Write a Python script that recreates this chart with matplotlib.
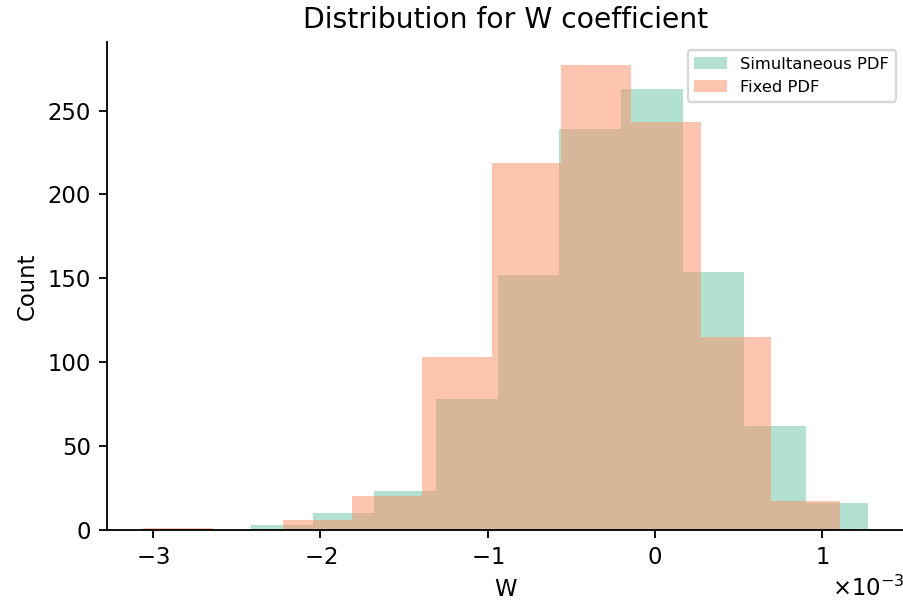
import numpy as np
import matplotlib.pyplot as plt

# bin counts for the W coefficient, 10 equal-width bins per run
sim_counts = [3, 10, 23, 78, 152, 239, 263, 154, 62, 16]
sim_range = (-2.412e-3, 1.272e-3)

fixed_counts = [1, 0, 6, 20, 103, 219, 277, 243, 115, 17]
fixed_range = (-3.057e-3, 1.108e-3)

sim_edges = np.linspace(sim_range[0], sim_range[1], len(sim_counts) + 1)
fixed_edges = np.linspace(fixed_range[0], fixed_range[1], len(fixed_counts) + 1)

fig = plt.figure(figsize=(904 / 164, 601 / 164), dpi=164)
ax = fig.add_axes([107 / 904, 1 - 530 / 601, 797 / 904, 488 / 601])

ax.hist(sim_edges[:-1], bins=sim_edges, weights=sim_counts,
        color='#66c2a5', alpha=0.5, label='Simultaneous PDF')
ax.hist(fixed_edges[:-1], bins=fixed_edges, weights=fixed_counts,
        color='#fc8d62', alpha=0.5, label='Fixed PDF')

ax.spines[['top', 'right']].set_visible(False)
ax.set_title('Distribution for W coefficient', fontsize=12.4)
ax.set_xlabel('W')
ax.set_ylabel('Count')
ax.ticklabel_format(axis='x', style='sci', scilimits=(0, 0), useMathText=True)
ax.legend(loc='upper right', fontsize=7.2)

fig.savefig('out.png', dpi=164)
